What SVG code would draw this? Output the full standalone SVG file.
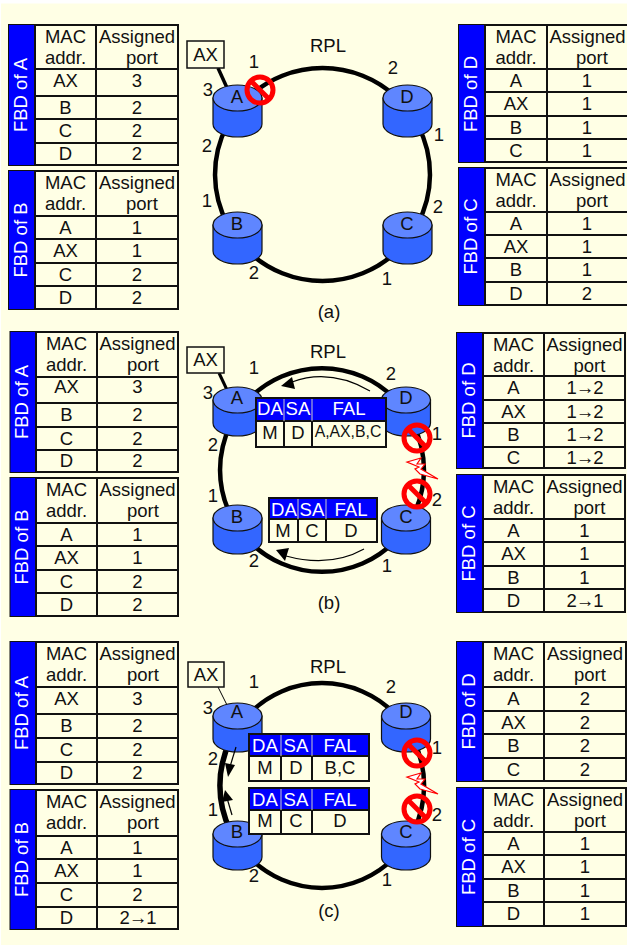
<svg xmlns="http://www.w3.org/2000/svg" width="627" height="945" viewBox="0 0 627 945">
<style>
text{font-family:"Liberation Sans",Arial,sans-serif;font-size:18.5px;fill:#111;text-anchor:middle}
.bg{fill:#FFFFE5}
.cell{fill:#FFFFE5;stroke:#111;stroke-width:2}
.side{fill:#0000FF}
.grid{fill:none;stroke:#111;stroke-width:2}
text.w{fill:#fff}
.ring{fill:none;stroke:#000;stroke-width:4.5}
.thin{fill:none;stroke:#000;stroke-width:1.2}
.box{fill:#FFFFE5;stroke:#111;stroke-width:1.5}
.sep{stroke:#ccc;stroke-width:1;fill:none}
.body{fill:#3366FF;stroke:#111;stroke-width:1.2}
.top{fill:#5F86FF;stroke:#111;stroke-width:1.2}
.no{fill:none;stroke:#F00;stroke-width:5}
.bolt{fill:#fff;stroke:#F00;stroke-width:1.2}
text.fal{font-size:15.8px}
text.h{font-size:18.6px}
text.ch{letter-spacing:-1.1px}
</style>
<defs>
<g id="cyl-a"><path class="body" d="M-24.5,0V26A24.5,13 0 0 0 24.5,26V0Z"/><ellipse class="top" rx="24.5" ry="13"/></g>
<g id="cyl-b"><path class="body" d="M-24.5,0V23A24.5,13 0 0 0 24.5,23V0Z"/><ellipse class="top" rx="24.5" ry="13"/></g>
<g id="no"><circle class="no" r="13"/><path class="no" d="M-9,-9L9,9"/></g>
<polygon id="bolt" class="bolt" points="407,462 421,458 417,464 425,464 421,469 438,479 420,474 415,469 419,467"/>
</defs>
<rect class="bg" x="1" y="3.5" width="626" height="941.5"/>

<g id="fbd-a-a"><rect class="cell" x="9" y="25" width="169" height="140"/><rect class="side" x="9" y="25" width="26" height="140"/><path class="grid" d="M35,25V165M96,25V165M35,69H178M35,96H178M35,119H178M35,143H178"/>
<text class="w" transform="translate(26.5,95) rotate(-90)">FBD of A</text>
<text x="65.5" y="43">MAC</text><text x="65.5" y="64">addr.</text><text x="137" y="43">Assigned</text><text x="142" y="64">port</text>
<text x="65.5" y="87">AX</text><text x="137" y="87">3</text><text x="65.5" y="113.5">B</text><text x="137" y="113.5">2</text><text x="65.5" y="137">C</text><text x="137" y="137">2</text><text x="65.5" y="160">D</text><text x="137" y="160">2</text></g>

<g id="fbd-b-a"><rect class="cell" x="9" y="171" width="169" height="138"/><rect class="side" x="9" y="171" width="26" height="138"/><path class="grid" d="M35,171V309M96,171V309M35,216H178M35,239H178M35,263H178M35,286H178"/>
<text class="w" transform="translate(26.5,240) rotate(-90)">FBD of B</text>
<text x="65.5" y="189">MAC</text><text x="65.5" y="210">addr.</text><text x="137" y="189">Assigned</text><text x="142" y="210">port</text>
<text x="65.5" y="233.5">A</text><text x="137" y="233.5">1</text><text x="65.5" y="257">AX</text><text x="137" y="257">1</text><text x="65.5" y="280.5">C</text><text x="137" y="280.5">2</text><text x="65.5" y="303.5">D</text><text x="137" y="303.5">2</text></g>

<g id="fbd-d-a"><rect class="cell" x="459" y="25" width="170" height="137"/><rect class="side" x="459" y="25" width="26" height="137"/><path class="grid" d="M485,25V162M547,25V162M485,69H629M485,92H629M485,116H629M485,139H629"/>
<text class="w" transform="translate(477,94) rotate(-90)">FBD of D</text>
<text x="516" y="43">MAC</text><text x="516" y="64">addr.</text><text x="587.5" y="43">Assigned</text><text x="592" y="64">port</text>
<text x="516" y="86.5">A</text><text x="587" y="86.5">1</text><text x="516" y="110">AX</text><text x="587" y="110">1</text><text x="516" y="133.5">B</text><text x="587" y="133.5">1</text><text x="516" y="156.5">C</text><text x="587" y="156.5">1</text></g>

<g id="fbd-c-a"><rect class="cell" x="459" y="168" width="170" height="137"/><rect class="side" x="459" y="168" width="26" height="137"/><path class="grid" d="M485,168V305M547,168V305M485,212H629M485,235H629M485,258H629M485,282H629"/>
<text class="w" transform="translate(477,236.5) rotate(-90)">FBD of C</text>
<text x="516" y="186">MAC</text><text x="516" y="207">addr.</text><text x="587.5" y="186">Assigned</text><text x="592" y="207">port</text>
<text x="516" y="229.5">A</text><text x="587" y="229.5">1</text><text x="516" y="252.5">AX</text><text x="587" y="252.5">1</text><text x="516" y="276">B</text><text x="587" y="276">1</text><text x="516" y="299.5">D</text><text x="587" y="299.5">2</text></g>

<g id="fbd-a-b"><rect class="cell" x="10.5" y="332" width="167.5" height="140"/><rect class="side" x="10.5" y="332" width="25.5" height="140"/><path class="grid" d="M36,332V472M97,332V472M36,377H178M36,403H178M36,427H178M36,450H178"/>
<text class="w" transform="translate(28,402) rotate(-90)">FBD of A</text>
<text x="66.5" y="350">MAC</text><text x="66.5" y="371">addr.</text><text x="137.5" y="350">Assigned</text><text x="143" y="371">port</text>
<text x="66.5" y="393">AX</text><text x="137.5" y="393">3</text><text x="66.5" y="421">B</text><text x="137.5" y="421">2</text><text x="66.5" y="444.5">C</text><text x="137.5" y="444.5">2</text><text x="66.5" y="467">D</text><text x="137.5" y="467">2</text></g>

<g id="fbd-b-b"><rect class="cell" x="10.5" y="478" width="167.5" height="138"/><rect class="side" x="10.5" y="478" width="25.5" height="138"/><path class="grid" d="M36,478V616M97,478V616M36,523H178M36,546H178M36,570H178M36,593H178"/>
<text class="w" transform="translate(28,547) rotate(-90)">FBD of B</text>
<text x="66.5" y="496">MAC</text><text x="66.5" y="517">addr.</text><text x="137.5" y="496">Assigned</text><text x="143" y="517">port</text>
<text x="66.5" y="540.5">A</text><text x="137.5" y="540.5">1</text><text x="66.5" y="564">AX</text><text x="137.5" y="564">1</text><text x="66.5" y="587.5">C</text><text x="137.5" y="587.5">2</text><text x="66.5" y="610.5">D</text><text x="137.5" y="610.5">2</text></g>

<g id="fbd-d-b"><rect class="cell" x="457" y="333" width="168" height="135"/><rect class="side" x="457" y="333" width="26" height="135"/><path class="grid" d="M483,333V468M544,333V468M483,376H625M483,400H625M483,423H625M483,447H625"/>
<text class="w" transform="translate(475,400.5) rotate(-90)">FBD of D</text>
<text x="513.5" y="351">MAC</text><text x="513.5" y="372">addr.</text><text x="584.5" y="351">Assigned</text><text x="589.5" y="372">port</text>
<text x="513.5" y="394">A</text><text class="ch" x="584.5" y="394">1→2</text><text x="513.5" y="417.5">AX</text><text class="ch" x="584.5" y="417.5">1→2</text><text x="513.5" y="441">B</text><text class="ch" x="584.5" y="441">1→2</text><text x="513.5" y="463.5">C</text><text class="ch" x="584.5" y="463.5">1→2</text></g>

<g id="fbd-c-b"><rect class="cell" x="457" y="475" width="168" height="137"/><rect class="side" x="457" y="475" width="26" height="137"/><path class="grid" d="M483,475V612M544,475V612M483,519H625M483,542H625M483,566H625M483,589H625"/>
<text class="w" transform="translate(475,543.5) rotate(-90)">FBD of C</text>
<text x="513.5" y="493">MAC</text><text x="513.5" y="514">addr.</text><text x="584.5" y="493">Assigned</text><text x="589.5" y="514">port</text>
<text x="513.5" y="536.5">A</text><text x="584.5" y="536.5">1</text><text x="513.5" y="560">AX</text><text x="584.5" y="560">1</text><text x="513.5" y="583.5">B</text><text x="584.5" y="583.5">1</text><text x="513.5" y="606.5">D</text><text class="ch" x="584.5" y="606.5">2→1</text></g>

<g id="fbd-a-c"><rect class="cell" x="10.5" y="642" width="167.5" height="142"/><rect class="side" x="10.5" y="642" width="25.5" height="142"/><path class="grid" d="M36,642V784M97,642V784M36,687H178M36,714H178M36,738H178M36,762H178"/>
<text class="w" transform="translate(28,713) rotate(-90)">FBD of A</text>
<text x="66.5" y="660">MAC</text><text x="66.5" y="681">addr.</text><text x="137.5" y="660">Assigned</text><text x="143" y="681">port</text>
<text x="66.5" y="705">AX</text><text x="137.5" y="705">3</text><text x="66.5" y="732">B</text><text x="137.5" y="732">2</text><text x="66.5" y="756">C</text><text x="137.5" y="756">2</text><text x="66.5" y="779">D</text><text x="137.5" y="779">2</text></g>

<g id="fbd-b-c"><rect class="cell" x="10.5" y="790" width="167.5" height="139"/><rect class="side" x="10.5" y="790" width="25.5" height="139"/><path class="grid" d="M36,790V929M97,790V929M36,836H178M36,859H178M36,883H178M36,907H178"/>
<text class="w" transform="translate(28,859.5) rotate(-90)">FBD of B</text>
<text x="66.5" y="808">MAC</text><text x="66.5" y="829">addr.</text><text x="137.5" y="808">Assigned</text><text x="143" y="829">port</text>
<text x="66.5" y="853.5">A</text><text x="137.5" y="853.5">1</text><text x="66.5" y="877">AX</text><text x="137.5" y="877">1</text><text x="66.5" y="901">C</text><text x="137.5" y="901">2</text><text x="66.5" y="924">D</text><text class="ch" x="137.5" y="924">2→1</text></g>

<g id="fbd-d-c"><rect class="cell" x="457" y="642" width="169" height="139"/><rect class="side" x="457" y="642" width="26" height="139"/><path class="grid" d="M483,642V781M544,642V781M483,687H626M483,711H626M483,734H626M483,758H626"/>
<text class="w" transform="translate(475,711.5) rotate(-90)">FBD of D</text>
<text x="513.5" y="660">MAC</text><text x="513.5" y="681">addr.</text><text x="585" y="660">Assigned</text><text x="590" y="681">port</text>
<text x="513.5" y="705">A</text><text x="585" y="705">2</text><text x="513.5" y="728.5">AX</text><text x="585" y="728.5">2</text><text x="513.5" y="752">B</text><text x="585" y="752">2</text><text x="513.5" y="775.5">C</text><text x="585" y="775.5">2</text></g>

<g id="fbd-c-c"><rect class="cell" x="457" y="788" width="169" height="138"/><rect class="side" x="457" y="788" width="26" height="138"/><path class="grid" d="M483,788V926M544,788V926M483,832H626M483,855H626M483,879H626M483,902H626"/>
<text class="w" transform="translate(475,857) rotate(-90)">FBD of C</text>
<text x="513.5" y="806">MAC</text><text x="513.5" y="827">addr.</text><text x="585" y="806">Assigned</text><text x="590" y="827">port</text>
<text x="513.5" y="849.5">A</text><text x="585" y="849.5">1</text><text x="513.5" y="873">AX</text><text x="585" y="873">1</text><text x="513.5" y="896.5">B</text><text x="585" y="896.5">1</text><text x="513.5" y="920">D</text><text x="585" y="920">1</text></g>

<g id="connectors">
<path class="ring" d="M250,95.9A107.5,106.5 0 0 1 395,95.9"/>
<path class="ring" d="M417.7,125A107.5,106.5 0 0 1 417.1,225"/>
<path class="ring" d="M395,253.1A107.5,106.5 0 0 1 250,253.1"/>
<path class="ring" d="M227.9,225A107.5,106.5 0 0 1 227.3,125"/>
<path class="ring" style="stroke-width:3.5" d="M218,68L228,90"/>
<path class="ring" d="M250,397.9A102,102 0 0 1 394,397.9"/>
<path class="ring" d="M413.5,425A102,102 0 0 1 413.5,515"/>
<path class="ring" d="M394,542.1A102,102 0 0 1 250,542.1"/>
<path class="ring" d="M230.5,515A102,102 0 0 1 230.5,425"/>
<path class="ring" style="stroke-width:3" d="M219,373L228,392"/>
<path class="ring" d="M250,713A102,102.5 0 0 1 394,713"/>
<path class="ring" d="M413.5,740A102,102.5 0 0 1 413.5,831"/>
<path class="ring" d="M394,858A102,102.5 0 0 1 250,858"/>
<path class="ring" style="stroke-width:5.5" d="M230.5,831A102,102.5 0 0 1 230.5,740"/>
<path class="thin" style="stroke-width:1" d="M218,687L227,705"/>
</g>

<g id="ax-a"><rect class="box" x="187" y="41" width="37" height="27"/><text x="205.5" y="61">AX</text></g>
<g id="ax-b"><rect class="box" x="187" y="347" width="37" height="26"/><text x="205.5" y="366">AX</text></g>
<g id="ax-c"><rect class="box" x="188" y="662" width="36" height="25"/><text x="206" y="681">AX</text></g>

<g id="a-a"><use href="#cyl-a" x="237.5" y="98"/><text x="237" y="103">A</text></g>
<g id="d-a"><use href="#cyl-a" x="407.5" y="98"/><text x="407" y="103">D</text></g>
<g id="b-a"><use href="#cyl-a" x="237.5" y="225"/><text x="237" y="230">B</text></g>
<g id="c-a"><use href="#cyl-a" x="407.5" y="225"/><text x="407" y="230">C</text></g>
<g id="a-b"><use href="#cyl-b" x="237.5" y="400"/><text x="237" y="404">A</text></g>
<g id="d-b"><use href="#cyl-b" x="406" y="400"/><text x="406" y="404">D</text></g>
<g id="b-b"><use href="#cyl-b" x="237.5" y="518"/><text x="237" y="523">B</text></g>
<g id="c-b"><use href="#cyl-b" x="406" y="518"/><text x="406" y="523">C</text></g>
<g id="a-c"><use href="#cyl-b" x="237.5" y="716"/><text x="237" y="718">A</text></g>
<g id="d-c"><use href="#cyl-b" x="406" y="716"/><text x="406" y="718">D</text></g>
<g id="b-c"><use href="#cyl-b" x="237.5" y="834"/><text x="237" y="838">B</text></g>
<g id="c-c"><use href="#cyl-b" x="406" y="834"/><text x="406" y="838">C</text></g>

<g id="labels-a">
<text x="328" y="52">RPL</text><text x="329" y="318">(a)</text>
<text x="254" y="68">1</text><text x="393" y="74">2</text><text x="208" y="96">3</text><text x="207" y="152">2</text><text x="207" y="207">1</text><text x="254" y="279">2</text><text x="387" y="285">1</text><text x="438" y="213">2</text><text x="439" y="141">1</text>
</g>
<g id="labels-b">
<text x="328" y="358">RPL</text><text x="329" y="609">(b)</text>
<text x="254" y="374">1</text><text x="391" y="380">2</text><text x="208" y="399">3</text><text x="213" y="451">2</text><text x="213" y="502">1</text><text x="254" y="567">2</text><text x="387" y="572">1</text><text x="437" y="440">1</text><text x="437" y="506">2</text>
</g>
<g id="labels-c">
<text x="328" y="673">RPL</text><text x="329" y="917">(c)</text>
<text x="254" y="688">1</text><text x="391" y="693">2</text><text x="208" y="714">3</text><text x="213" y="765">2</text><text x="213" y="816">1</text><text x="254" y="882">2</text><text x="387" y="886">1</text><text x="437" y="754">1</text><text x="437" y="821">2</text>
</g>

<g id="arrows">
<path class="thin" d="M370,391Q330,368 292,382"/><polygon points="281,386 292,377 295,389"/>
<path class="thin" d="M364,549Q330,568 286,556"/><polygon points="276,550 289,548 285,561"/>
<path class="thin" d="M236,747L229,770"/><polygon points="228,777 225,763 235,765"/>
<path class="thin" d="M232,815L227,798"/><polygon points="225,790 222,802 233,800"/>
</g>

<g id="frame-b1"><rect class="cell" x="256" y="398" width="130" height="49"/><rect class="side" x="257" y="399" width="128" height="22"/><path class="grid" d="M256,421H386"/><path class="sep" d="M284,399V421M312,399V421"/><path class="grid" d="M284,421V447M312,421V447"/>
<text class="w h" x="270" y="415">DA</text><text class="w h" x="298" y="415">SA</text><text class="w h" x="349" y="415">FAL</text><text x="270" y="439">M</text><text x="298" y="439">D</text><text class="fal" x="348" y="437">A,AX,B,C</text></g>
<g id="frame-b2"><rect class="cell" x="269" y="498" width="108" height="44"/><rect class="side" x="270" y="499" width="106" height="20"/><path class="grid" d="M269,519H377"/><path class="sep" d="M298,499V519M326,499V519"/><path class="grid" d="M298,519V542M326,519V542"/>
<text class="w h" x="284" y="516">DA</text><text class="w h" x="312" y="516">SA</text><text class="w h" x="351" y="516">FAL</text><text x="283" y="537">M</text><text x="312" y="537">C</text><text x="351" y="537">D</text></g>
<g id="frame-c1"><rect class="cell" x="249" y="734" width="120" height="47"/><rect class="side" x="250" y="735" width="118" height="21"/><path class="grid" d="M249,756H369"/><path class="sep" d="M281,735V756M312,735V756"/><path class="grid" d="M281,756V781M312,756V781"/>
<text class="w h" x="265" y="752">DA</text><text class="w h" x="296" y="752">SA</text><text class="w h" x="340" y="752">FAL</text><text x="265" y="774">M</text><text x="296" y="774">D</text><text x="340" y="774">B,C</text></g>
<g id="frame-c2"><rect class="cell" x="249" y="788" width="120" height="46"/><rect class="side" x="250" y="789" width="118" height="21"/><path class="grid" d="M249,810H369"/><path class="sep" d="M281,789V810M312,789V810"/><path class="grid" d="M281,810V834M312,810V834"/>
<text class="w h" x="265" y="806">DA</text><text class="w h" x="296" y="806">SA</text><text class="w h" x="340" y="806">FAL</text><text x="265" y="827">M</text><text x="296" y="827">C</text><text x="340" y="827">D</text></g>

<g id="blocks">
<use href="#no" x="260" y="90"/>
<use href="#no" x="417" y="438"/><use href="#bolt"/><use href="#no" x="417" y="494"/>
<use href="#no" x="417" y="753"/><use href="#bolt" y="315"/><use href="#no" x="417" y="809"/>
</g>
</svg>
